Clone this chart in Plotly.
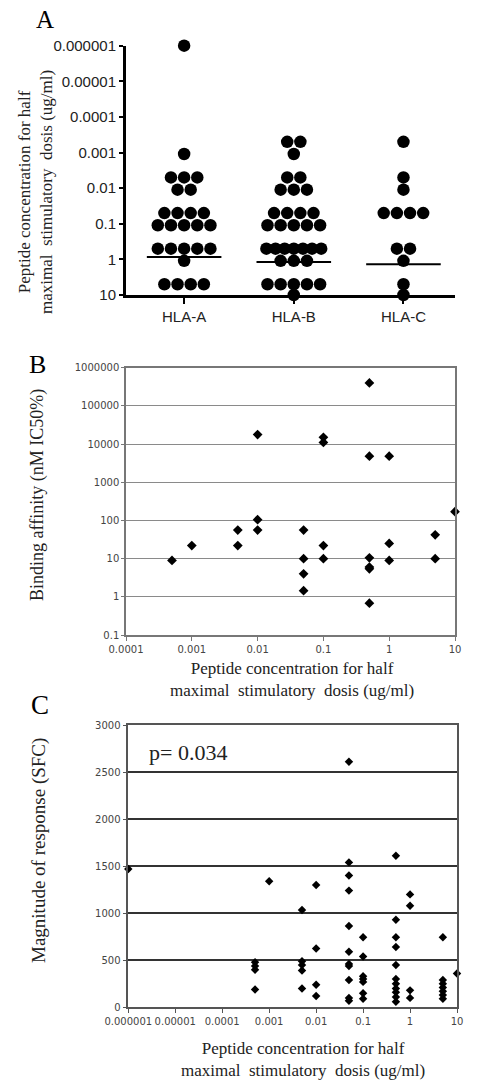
import plotly.graph_objects as go

W, H = 477, 1082

# ---------------- Panel A data (dot plot, ug/ml) ----------------
hla_groups = ["HLA-A", "HLA-B", "HLA-C"]
hla_a = [1e-6, 0.0011, 0.005, 0.005, 0.005, 0.011, 0.011,
         0.05, 0.05, 0.05, 0.05, 0.11, 0.11, 0.11, 0.11, 0.11,
         0.5, 0.5, 0.5, 0.5, 0.5, 1.1, 5, 5, 5, 5]
hla_b = [0.0005, 0.0005, 0.0011, 0.005, 0.005, 0.011, 0.011, 0.011,
         0.05, 0.05, 0.05, 0.05, 0.11, 0.11, 0.11, 0.11, 0.11,
         0.5, 0.5, 0.5, 0.5, 0.5, 0.5, 0.5, 1.1, 1.1, 1.1,
         5, 5, 5, 5, 5, 10]
hla_c = [0.0005, 0.005, 0.011, 0.05, 0.05, 0.05, 0.05, 0.5, 0.5, 1.1, 5, 10]
hla_medians = [0.86, 1.19, 1.38]
a_ticks = [1e-6, 1e-5, 1e-4, 1e-3, 1e-2, 1e-1, 1, 10]
a_ticktext = ["0.000001", "0.00001", "0.0001", "0.001", "0.01", "0.1", "1", "10"]

# ---------------- Panel B data ----------------
b_conc = [0.0005, 0.001, 0.005, 0.005, 0.01, 0.01, 0.01,
          0.05, 0.05, 0.05, 0.05, 0.1, 0.1, 0.1, 0.1,
          0.5, 0.5, 0.5, 0.5, 0.5, 0.5, 1, 1, 1, 5, 5, 10]
b_affinity = [9, 22, 56, 22, 17800, 105, 56,
              56, 10, 4, 1.45, 15000, 11000, 22, 10,
              400000, 4800, 10.5, 6, 5.4, 0.68, 4800, 25, 9, 42, 10, 170]
b_xticks = [1e-4, 1e-3, 1e-2, 1e-1, 1, 10]
b_xticktext = ["0.0001", "0.001", "0.01", "0.1", "1", "10"]
b_yticks = [0.1, 1, 10, 100, 1000, 10000, 100000, 1000000]
b_yticktext = ["0.1", "1", "10", "100", "1000", "10000", "100000", "1000000"]

# ---------------- Panel C data ----------------
c_conc = ([1e-6] +
          [0.0005] * 4 +
          [0.001] +
          [0.005] * 5 +
          [0.01] * 4 +
          [0.05] * 11 +
          [0.1] * 7 +
          [0.5] * 11 +
          [1] * 4 +
          [5] * 7 +
          [10])
c_sfc = ([1470] +
         [480, 440, 400, 190] +
         [1340] +
         [1035, 490, 450, 390, 200] +
         [1300, 625, 240, 120] +
         [2610, 1540, 1400, 1240, 865, 590, 460, 440, 290, 100, 70] +
         [745, 540, 330, 300, 270, 150, 90] +
         [1610, 930, 745, 640, 450, 300, 250, 200, 160, 110, 60] +
         [1200, 1080, 180, 100] +
         [745, 290, 250, 210, 170, 130, 90] +
         [360])
c_xticks = [1e-6, 1e-5, 1e-4, 1e-3, 1e-2, 1e-1, 1, 10]
c_xticktext = ["0.000001", "0.00001", "0.0001", "0.001", "0.01", "0.1", "1", "10"]
c_yticks = [0, 500, 1000, 1500, 2000, 2500, 3000]

# ---------------- helpers ----------------
def px_x(x):
    return x / W

def px_y(y):
    return 1 - y / H

def swarm(values, center):
    """Place equal values side by side around the category center."""
    xs = []
    counts = {}
    for v in values:
        counts[v] = counts.get(v, 0) + 1
    seen = {}
    for v in values:
        n = counts[v]
        k = seen.get(v, 0)
        seen[v] = k + 1
        sp = 0.12 if n <= 1 else min(0.12, 0.5 / (n - 1))
        xs.append(center + (k - (n - 1) / 2) * sp)
    return xs

SERIF = "Liberation Serif"
SANS = "Liberation Sans, Arial"
SMALL = "DejaVu Sans"

fig = go.Figure()

# Panel A points
for i, vals in enumerate([hla_a, hla_b, hla_c]):
    fig.add_trace(go.Scatter(
        x=swarm(vals, i), y=vals, mode="markers",
        marker=dict(symbol="circle", size=12.5, color="black"),
        cliponaxis=False, showlegend=False, xaxis="x", yaxis="y"))
    fig.add_trace(go.Scatter(
        x=[i - 0.34, i + 0.34], y=[hla_medians[i]] * 2, mode="lines",
        line=dict(color="black", width=2), showlegend=False,
        xaxis="x", yaxis="y"))

# Panel B points
fig.add_trace(go.Scatter(
    x=b_conc, y=b_affinity, mode="markers",
    marker=dict(symbol="diamond", size=7.5, color="black"),
    cliponaxis=False, showlegend=False, xaxis="x2", yaxis="y2"))

# Panel C points
fig.add_trace(go.Scatter(
    x=c_conc, y=c_sfc, mode="markers",
    marker=dict(symbol="diamond", size=6.5, color="black"),
    cliponaxis=False, showlegend=False, xaxis="x3", yaxis="y3"))

common = dict(automargin=False, zeroline=False)

fig.update_layout(
    width=W, height=H, autosize=False,
    margin=dict(l=0, r=0, t=0, b=0, pad=0, autoexpand=False),
    showlegend=False,
    paper_bgcolor="white", plot_bgcolor="white",
    font=dict(family=SANS, color="black"),
    # ---- A ----
    xaxis=dict(domain=[px_x(126), px_x(455)], range=[-0.53, 2.47], anchor="y",
               tickvals=[0, 1, 2], ticktext=hla_groups, tickangle=0,
               ticks="outside", ticklen=6, tickwidth=2, tickcolor="black",
               showline=True, linecolor="black", linewidth=3,
               showgrid=False,
               tickfont=dict(family=SANS, size=15, color="#222"), **common),
    yaxis=dict(domain=[px_y(295), px_y(45.7)], type="log", range=[1, -6], anchor="x",
               tickvals=a_ticks, ticktext=a_ticktext,
               ticks="outside", ticklen=4, tickwidth=2, tickcolor="black",
               showline=True, linecolor="black", linewidth=3,
               showgrid=False,
               tickfont=dict(family=SANS, size=15, color="#222"), **common),
    # ---- B ----
    xaxis2=dict(domain=[px_x(126), px_x(455)], type="log", range=[-4, 1], anchor="y2",
                tickvals=b_xticks, ticktext=b_xticktext, tickangle=0,
                ticks="outside", ticklen=4, tickcolor="#777",
                showline=True, linecolor="#777", linewidth=1.5, mirror=True,
                showgrid=False,
                tickfont=dict(family=SMALL, size=10, color="#444"), **common),
    yaxis2=dict(domain=[px_y(635), px_y(367.7)], type="log", range=[-1, 6], anchor="x2",
                tickvals=b_yticks, ticktext=b_yticktext,
                ticks="outside", ticklen=3, tickcolor="#777",
                showline=True, linecolor="#777", linewidth=1.5, mirror=True,
                showgrid=True, gridcolor="#8a8a8a", gridwidth=1.2,
                tickfont=dict(family=SMALL, size=10, color="#444"), **common),
    # ---- C ----
    xaxis3=dict(domain=[px_x(128.3), px_x(457)], type="log", range=[-6, 1], anchor="y3",
                tickvals=c_xticks, ticktext=c_xticktext, tickangle=0,
                ticks="outside", ticklen=4, tickcolor="#555",
                showline=True, linecolor="#555", linewidth=1.5, mirror=True,
                showgrid=False,
                tickfont=dict(family=SMALL, size=10, color="#444"), **common),
    yaxis3=dict(domain=[px_y(1007.3), px_y(725)], range=[0, 3000], anchor="x3",
                tickvals=c_yticks,
                ticks="outside", ticklen=4, tickcolor="#555",
                showline=True, linecolor="#555", linewidth=1.5, mirror=True,
                showgrid=True, gridcolor="#333", gridwidth=1.5,
                tickfont=dict(family=SMALL, size=10, color="#444"), **common),
)

nb = "\u00a0"
x_title = ("Peptide concentration for half<br>maximal" + nb * 2 + "stimulatory" + nb * 2 +
           "dosis (ug/ml)")

annotations = [
    # panel letters
    dict(text="A", x=px_x(45), y=px_y(19), font=dict(family=SERIF, size=25)),
    dict(text="B", x=px_x(37), y=px_y(364), font=dict(family=SERIF, size=26)),
    dict(text="C", x=px_x(40), y=px_y(705), font=dict(family=SERIF, size=27)),
    # A y title
    dict(text=x_title, x=px_x(35), y=px_y(192), textangle=-90,
         font=dict(family=SERIF, size=17, color="#222")),
    # B titles
    dict(text="Binding affinity (nM IC50%)", x=px_x(37), y=px_y(495), textangle=-90,
         font=dict(family=SERIF, size=18, color="#222")),
    dict(text=x_title, x=px_x(292), y=px_y(679),
         font=dict(family=SERIF, size=17, color="#222")),
    # C titles
    dict(text="Magnitude of response (SFC)", x=px_x(39), y=px_y(851), textangle=-90,
         font=dict(family=SERIF, size=19, color="#222")),
    dict(text=x_title, x=px_x(303), y=px_y(1059),
         font=dict(family=SERIF, size=17, color="#222")),
    dict(text="p= 0.034", x=px_x(188), y=px_y(752),
         font=dict(family=SERIF, size=22, color="#222")),
]
for a in annotations:
    a.update(xref="paper", yref="paper", showarrow=False,
             xanchor="center", yanchor="middle")
fig.update_layout(annotations=annotations)

fig.write_html(
    "out.html",
    config={"displayModeBar": False},
    post_script="document.body.style.margin='0';document.body.style.padding='0';"
                "document.body.style.overflow='hidden';",
)
